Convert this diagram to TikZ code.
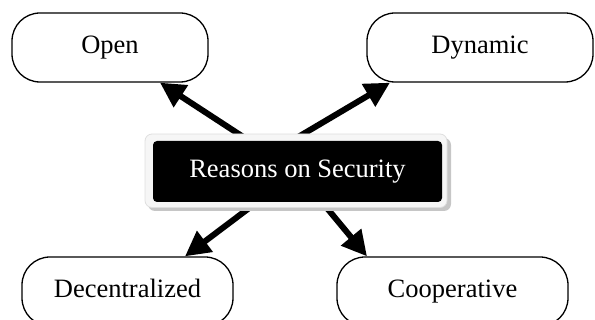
\documentclass[tikz,border=0pt]{standalone}
\usepackage{fontspec}
\setmainfont{Liberation Serif}
\usetikzlibrary{arrows.meta}
\tikzset{
  leaf/.style={draw=black, line width=1.3pt, fill=white, rounded corners=28pt,
    minimum height=69pt, inner sep=0pt, text height=18pt, text depth=6pt,
    font=\fontsize{26.5}{30}\selectfont},
  arr/.style={line width=6pt, -{Triangle[length=25pt,width=25pt]}},
  hub/.style={fill=black, text=white, rounded corners=4pt, minimum width=289pt,
    minimum height=61pt, inner sep=0pt, text height=18pt, text depth=6pt,
    font=\fontsize{26.5}{30}\selectfont}
}
\begin{document}
\begin{tikzpicture}[x=1pt, y=-1pt]
\useasboundingbox (0,0) rectangle (595,320);
\clip (0,0) rectangle (595,320);
% outer nodes
\node[leaf, minimum width=196pt] (open) at (110,47.5) {Open};
\node[leaf, minimum width=226pt] (dyn) at (480,47.5) {Dynamic};
\node[leaf, minimum width=211pt] (dec) at (127.5,291.5) {Decentralized};
\node[leaf, minimum width=231pt] (coop) at (452.5,291.5) {Cooperative};
% arrow tails (hidden under the hub)
\coordinate (c0) at (297,172);
\coordinate (c1) at (239,172);
\draw[arr] (c0) -- ([xshift=50pt]open.south);
\draw[arr] (c1) -- ([xshift=-90pt]dyn.south);
\draw[arr] (c0) -- ([xshift=57.5pt]dec.north);
\draw[arr] (c0) -- ([xshift=-85.5pt]coop.north);
% hub frame
\fill[gray!45, rounded corners=7pt] (148,138) rectangle (451,211);
\filldraw[fill=gray!7, draw=gray!25, line width=0.8pt, rounded corners=7pt] (145,134) rectangle (447,207.5);
\node[hub] (hub) at (297.5,171.5) {Reasons on Security};
\end{tikzpicture}
\end{document}
